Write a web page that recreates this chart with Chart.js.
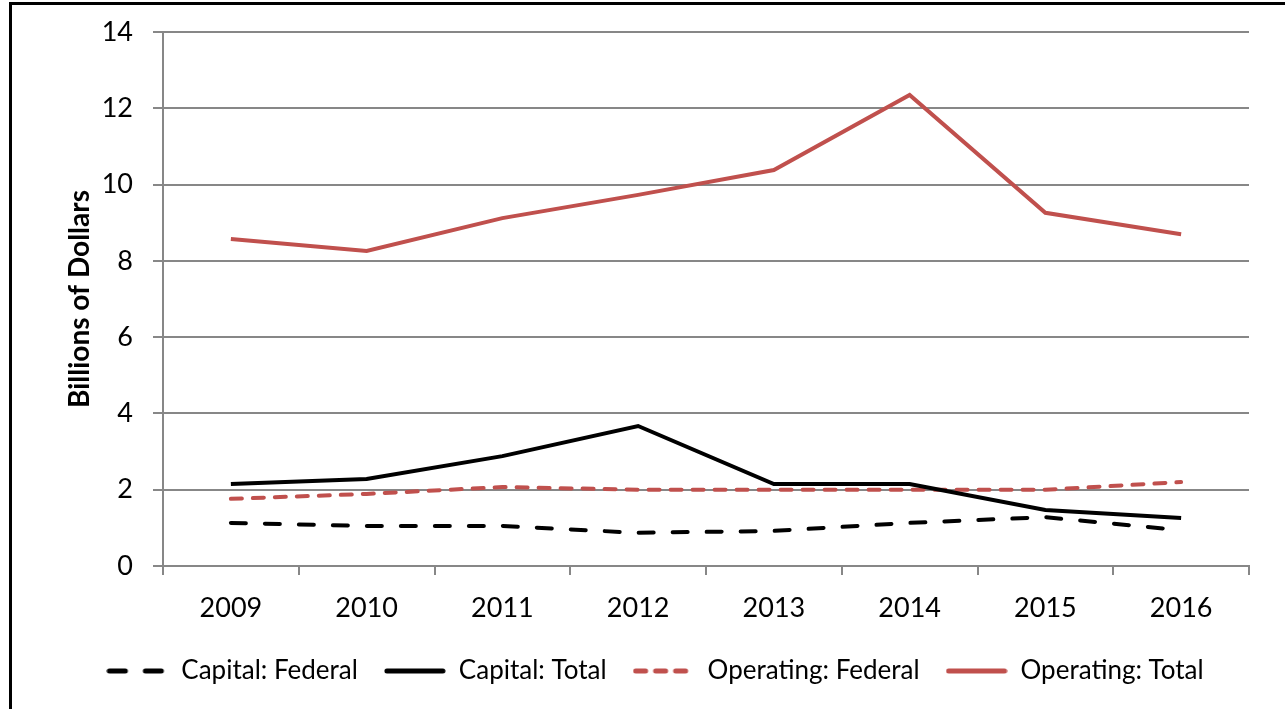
<!DOCTYPE html>
<html>
<head>
<meta charset="utf-8">
<script src="https://cdn.jsdelivr.net/npm/chart.js@4.4.1/dist/chart.umd.min.js"></script>
<style>
  html, body { margin: 0; padding: 0; background: #fff; overflow: hidden; }
  #frame { position: absolute; left: 9px; top: 2px; width: 1300px; height: 740px; border: 3px solid #000; box-sizing: border-box; }
  #wrap { position: absolute; left: 0; top: 0; width: 1285px; height: 709px; }
</style>
</head>
<body>
<div id="frame"></div>
<div id="wrap"><canvas id="c"></canvas></div>
<script>
const years = ['2009', '2010', '2011', '2012', '2013', '2014', '2015', '2016'];
const capitalFederal = [1.13, 1.05, 1.05, 0.87, 0.92, 1.13, 1.28, 0.94];
const capitalTotal = [2.15, 2.28, 2.88, 3.67, 2.15, 2.15, 1.47, 1.26];
const operatingFederal = [1.76, 1.89, 2.07, 2.0, 2.0, 2.0, 2.0, 2.2];
const operatingTotal = [8.57, 8.26, 9.12, 9.73, 10.38, 12.35, 9.26, 8.70];

const RED = '#C0504D';
const GRID = '#878787';
const FONT = 'Lato, "DejaVu Sans", sans-serif';

// small picture of a dataset's line style, used as the legend marker
function legendSample(ds, w) {
  const cv = document.createElement('canvas');
  cv.width = w; cv.height = 8;
  const ctx = cv.getContext('2d');
  ctx.strokeStyle = ds.borderColor;
  ctx.lineWidth = ds.borderWidth + 1;
  ctx.lineCap = 'round';
  ctx.setLineDash(ds.legendDash || []);
  ctx.beginPath();
  ctx.moveTo(3, 4); ctx.lineTo(w - 3, 4);
  ctx.stroke();
  return cv;
}

new Chart(document.getElementById('c'), {
  type: 'line',
  data: {
    labels: years,
    datasets: [
      { label: 'Capital: Federal', data: capitalFederal, borderColor: '#000', backgroundColor: '#000', borderWidth: 4, borderDash: [15, 19], legendDash: [16, 20], borderCapStyle: 'round', pointRadius: 0, tension: 0 },
      { label: 'Capital: Total', data: capitalTotal, borderColor: '#000', backgroundColor: '#000', borderWidth: 4, pointRadius: 0, tension: 0 },
      { label: 'Operating: Federal', data: operatingFederal, borderColor: RED, backgroundColor: RED, borderWidth: 4, borderDash: [11, 11], legendDash: [10, 10], borderCapStyle: 'round', pointRadius: 0, tension: 0 },
      { label: 'Operating: Total', data: operatingTotal, borderColor: RED, backgroundColor: RED, borderWidth: 4, pointRadius: 0, tension: 0 }
    ]
  },
  options: {
    responsive: true, maintainAspectRatio: false, animation: false,
    layout: { padding: { top: 32, right: 36, left: 61, bottom: 15 } },
    plugins: {
      tooltip: { enabled: false },
      legend: {
        position: 'bottom',
        labels: {
          usePointStyle: true, pointStyleWidth: 62,
          color: '#000', font: { family: FONT, size: 26 }, padding: 26,
          generateLabels: chart => chart.data.datasets.map((ds, i) => ({
            text: ds.label,
            datasetIndex: i,
            pointStyle: legendSample(ds, 62),
            fontColor: '#000',
            lineWidth: 0,
            strokeStyle: ds.borderColor,
            fillStyle: ds.borderColor,
            hidden: false
          }))
        }
      }
    },
    scales: {
      x: {
        offset: true,
        grid: { offset: true, drawOnChartArea: false, drawTicks: true, tickLength: 9, color: GRID, lineWidth: 2 },
        border: { color: GRID, width: 2 },
        ticks: { color: '#000', font: { family: FONT, size: 27 }, padding: 17, maxRotation: 0 },
        afterFit: s => { s.height = 66; }
      },
      y: {
        min: 0, max: 14,
        grid: { color: GRID, lineWidth: 2, drawTicks: true, tickLength: 10 },
        border: { color: GRID, width: 2 },
        ticks: { stepSize: 2, color: '#000', font: { family: FONT, size: 27 }, padding: 20 },
        title: { display: true, text: 'Billions of Dollars', color: '#000', font: { family: FONT, size: 28, weight: 'bold' }, padding: { top: 2, bottom: 0 } },
        afterFit: s => { s.width = 102; s.paddingTop = 0; s.paddingBottom = 0; }
      }
    }
  }
});
</script>
</body>
</html>
